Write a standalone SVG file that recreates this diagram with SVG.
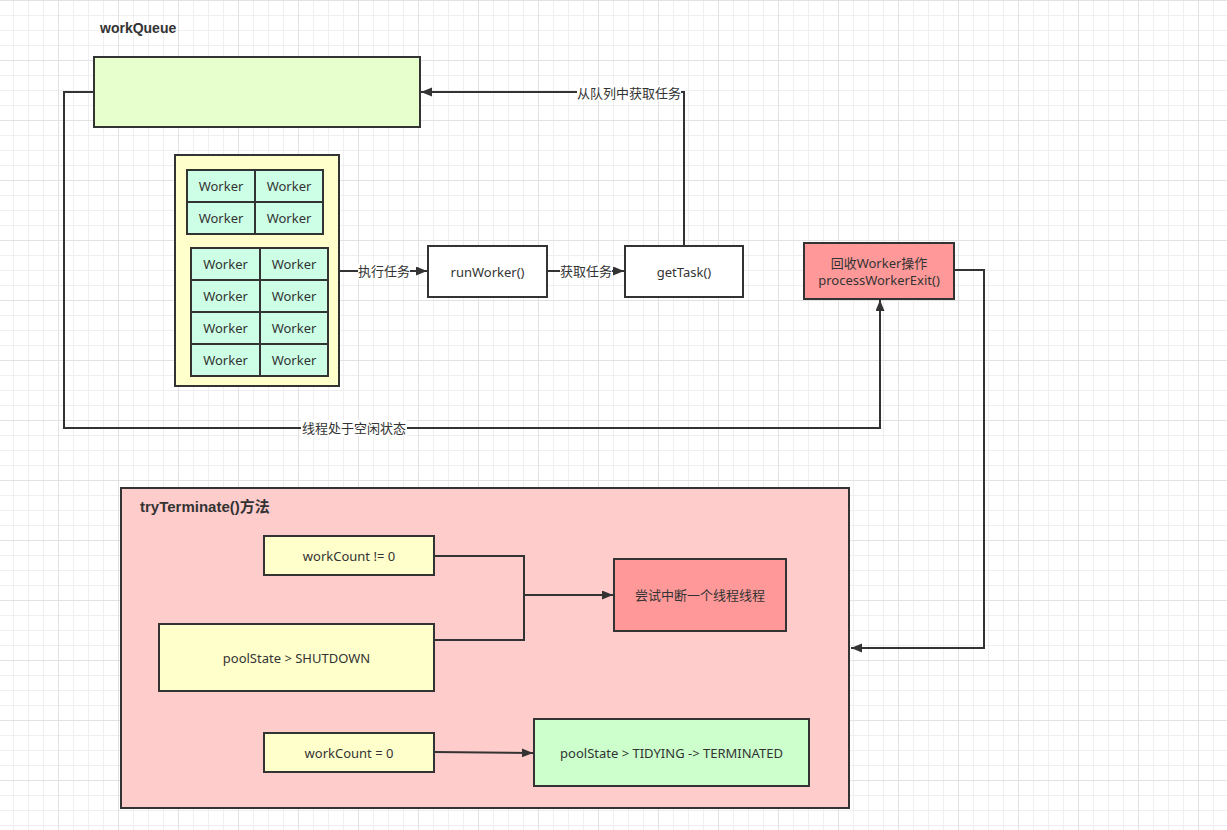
<svg xmlns="http://www.w3.org/2000/svg" width="1227" height="830" viewBox="0 0 1227 830">
<defs>
<pattern id="grid" patternUnits="userSpaceOnUse" x="-2" y="0" width="60" height="60">
<rect width="60" height="60" fill="#ffffff"/>
<path d="M15.5 0V60M30.5 0V60M45.5 0V60M0 15.5H60M0 30.5H60M0 45.5H60" stroke="#efefef" stroke-width="1" fill="none"/>
<path d="M0.5 0V60M0 0.5H60" stroke="#e2e2e2" stroke-width="1" fill="none"/>
</pattern>
<marker id="arr" markerUnits="userSpaceOnUse" markerWidth="12" markerHeight="10" refX="11" refY="4.5" orient="auto">
<path d="M0,0 L11,4.5 L0,9 Z" fill="#333333"/>
</marker>
<style>
.box{stroke:#333333;stroke-width:2}
.t{font-family:"Noto Sans","Noto Sans CJK SC",sans-serif;font-size:13px;fill:#333333;text-anchor:middle;dominant-baseline:central}
.b{font-family:"Liberation Sans","Noto Sans CJK SC",sans-serif;font-weight:bold;fill:#333333}
.edge{fill:none;stroke:#333333;stroke-width:2}
.lbg{fill:#ffffff}
.w{fill:#CCFFE6;stroke:#333333;stroke-width:2}
</style>
</defs>
<rect width="1227" height="830" fill="url(#grid)"/>

<g id="workQueue">
<text class="b" x="100" y="33" font-size="14">workQueue</text>
<rect class="box" x="94" y="57" width="326" height="70" fill="#E6FFCC"/>
</g>

<g id="workers">
<rect class="box" x="175" y="155" width="164" height="231" fill="#FFFFCC"/>
<rect class="w" x="187" y="170" width="68" height="32"/>
<rect class="w" x="255" y="170" width="68" height="32"/>
<rect class="w" x="187" y="202" width="68" height="32"/>
<rect class="w" x="255" y="202" width="68" height="32"/>
<text class="t" x="221" y="186">Worker</text>
<text class="t" x="289" y="186">Worker</text>
<text class="t" x="221" y="218">Worker</text>
<text class="t" x="289" y="218">Worker</text>
<rect class="w" x="191" y="248" width="69" height="32"/>
<rect class="w" x="260" y="248" width="68" height="32"/>
<rect class="w" x="191" y="280" width="69" height="32"/>
<rect class="w" x="260" y="280" width="68" height="32"/>
<rect class="w" x="191" y="312" width="69" height="32"/>
<rect class="w" x="260" y="312" width="68" height="32"/>
<rect class="w" x="191" y="344" width="69" height="32"/>
<rect class="w" x="260" y="344" width="68" height="32"/>
<text class="t" x="225.5" y="264">Worker</text>
<text class="t" x="294" y="264">Worker</text>
<text class="t" x="225.5" y="296">Worker</text>
<text class="t" x="294" y="296">Worker</text>
<text class="t" x="225.5" y="328">Worker</text>
<text class="t" x="294" y="328">Worker</text>
<text class="t" x="225.5" y="360">Worker</text>
<text class="t" x="294" y="360">Worker</text>
</g>

<g id="runWorker">
<rect class="box" x="428" y="246" width="119" height="51" fill="#ffffff"/>
<text class="t" x="487.5" y="271.5">runWorker()</text>
</g>

<g id="getTask">
<rect class="box" x="625" y="246" width="118" height="51" fill="#ffffff"/>
<text class="t" x="684" y="271.5">getTask()</text>
</g>

<g id="processWorkerExit">
<rect class="box" x="804" y="243" width="150" height="56" fill="#FF9999"/>
<text class="t" x="879" y="263">回收Worker操作</text>
<text class="t" x="879" y="280">processWorkerExit()</text>
</g>

<g id="tryTerminate">
<rect class="box" x="121" y="488" width="728" height="320" fill="#FFCCCC"/>
<text class="b" x="140" y="512" font-size="15">tryTerminate()方法</text>
</g>

<g id="workCountNotZero">
<rect class="box" x="264" y="536" width="170" height="39" fill="#FFFFCC"/>
<text class="t" x="349" y="555.5">workCount != 0</text>
</g>

<g id="poolStateShutdown">
<rect class="box" x="159" y="624" width="275" height="67" fill="#FFFFCC"/>
<text class="t" x="296.5" y="657.5">poolState &gt; SHUTDOWN</text>
</g>

<g id="interrupt">
<rect class="box" x="614" y="559" width="172" height="72" fill="#FF9999"/>
<text class="t" x="700" y="595">尝试中断一个线程线程</text>
</g>

<g id="workCountZero">
<rect class="box" x="264" y="733" width="170" height="39" fill="#FFFFCC"/>
<text class="t" x="349" y="752.5">workCount = 0</text>
</g>

<g id="terminated">
<rect class="box" x="534" y="719" width="275" height="67" fill="#CCFFCC"/>
<text class="t" x="671.5" y="752.5">poolState &gt; TIDYING -&gt; TERMINATED</text>
</g>

<g id="connectors">
<path class="edge" d="M94 92H64V428H880V300" marker-end="url(#arr)"/>
<rect class="lbg" x="301" y="420" width="106" height="16"/>
<text class="t" x="354" y="428">线程处于空闲状态</text>

<path class="edge" d="M684 246V92H421" marker-end="url(#arr)"/>
<rect class="lbg" x="577" y="85" width="104" height="16"/>
<text class="t" x="629" y="93">从队列中获取任务</text>

<path class="edge" d="M340 271H427" marker-end="url(#arr)"/>
<rect class="lbg" x="358" y="263" width="52" height="16"/>
<text class="t" x="384" y="271">执行任务</text>

<path class="edge" d="M547 271H624" marker-end="url(#arr)"/>
<rect class="lbg" x="560" y="263" width="52" height="16"/>
<text class="t" x="586" y="271">获取任务</text>

<path class="edge" d="M954 270H984V648H851" marker-end="url(#arr)"/>

<path class="edge" d="M434 556H524V640H434"/>
<path class="edge" d="M524 595H613" marker-end="url(#arr)"/>

<path class="edge" d="M434 752L533 753" marker-end="url(#arr)"/>
</g>
</svg>
